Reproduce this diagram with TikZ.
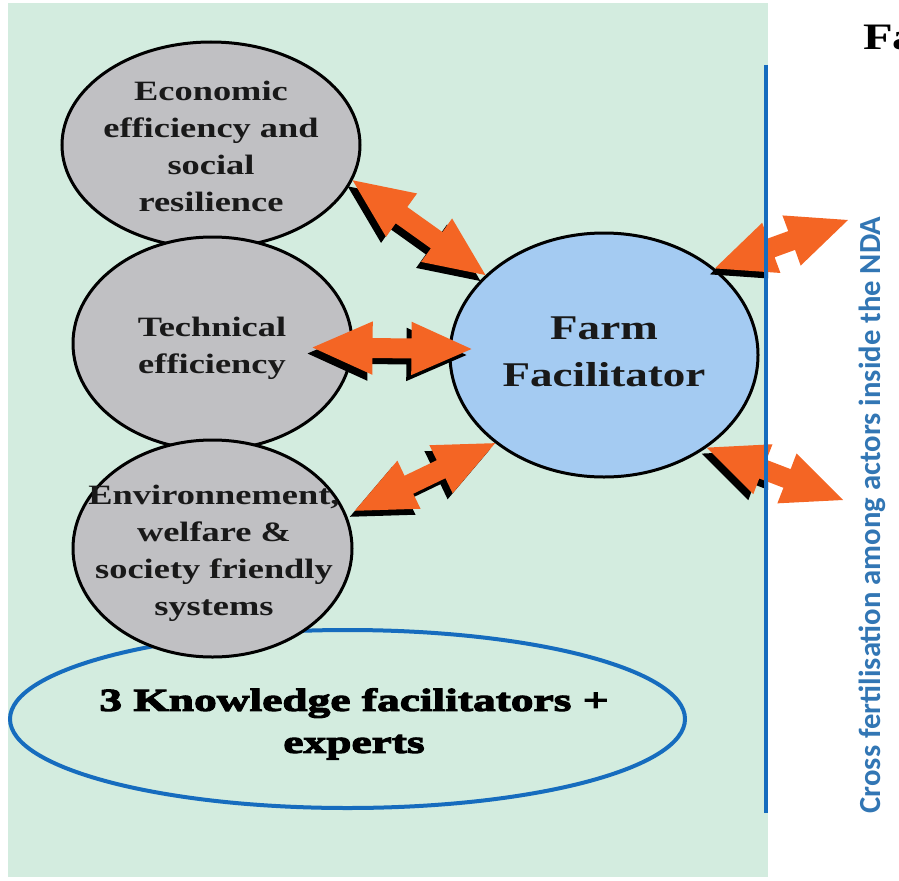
\documentclass[tikz,border=0pt]{standalone}
\usepackage{fontspec}
\setmainfont{Liberation Serif}
\newfontfamily\wideserif[FakeStretch=1.3]{Liberation Serif}
\newfontfamily\heavyserif[FakeStretch=1.42,FakeBold=3.5]{Liberation Serif}
\newfontfamily\sidesans{Carlito}
\usetikzlibrary{calc,shapes.geometric}
\definecolor{bggreen}{RGB}{211,236,223}
\definecolor{ellgray}{RGB}{192,192,195}
\definecolor{farmblue}{RGB}{164,203,242}
\definecolor{arrorange}{RGB}{244,101,36}
\definecolor{lineblue}{RGB}{22,108,190}
\definecolor{sideblue}{RGB}{50,118,180}
\definecolor{txtdark}{RGB}{25,25,25}
% double arrow polygon between two named points
\newcommand\dblarrow[3]{%
  \fill[#3] (#1) -- ($(#1)!49.3pt!23.96:(#2)$) -- ($(#1)!45.6pt!9.46:(#2)$)
    -- ($(#2)!45.6pt!-9.46:(#1)$) -- ($(#2)!49.3pt!-23.96:(#1)$) -- (#2)
    -- ($(#2)!49.3pt!23.96:(#1)$) -- ($(#2)!45.6pt!9.46:(#1)$)
    -- ($(#1)!45.6pt!-9.46:(#2)$) -- ($(#1)!49.3pt!-23.96:(#2)$) -- cycle;}
\newcommand\shadowarrow[2]{%
  \coordinate (sA) at ($(#1)+(-5,6)$);
  \coordinate (sB) at ($(#2)+(-5,6)$);
  \dblarrow{sA}{sB}{black}}
\tikzset{
  grayell/.style={ellipse, draw=black, line width=2.25pt, fill=ellgray, inner sep=0pt},
  graytext/.style={align=center, text=txtdark, inner sep=0pt,
    font=\wideserif\bfseries\fontsize{21}{27.75}\selectfont},
  farmell/.style={ellipse, draw=black, line width=2.25pt, fill=farmblue, inner sep=0pt},
  farmtext/.style={align=center, text=txtdark, inner sep=0pt,
    font=\wideserif\bfseries\fontsize{26}{35}\selectfont},
  knowell/.style={ellipse, draw=lineblue, line width=3pt, inner sep=0pt},
  knowtext/.style={align=center, text=black, inner sep=0pt,
    font=\heavyserif\bfseries\fontsize{24}{31.5}\selectfont},
  sidetext/.style={text=sideblue, inner sep=0pt, rotate=90, anchor=base,
    font=\sidesans\bfseries\fontsize{23}{23}\selectfont},
}
\begin{document}
\begin{tikzpicture}[x=0.75pt,y=-0.75pt]
\useasboundingbox (0,0) rectangle (899,881);
\fill[bggreen] (8,3) rectangle (768,877);

\node[knowell, minimum width=506.25pt, minimum height=133.5pt] (know) at (347.5,719) {};
\node[grayell, minimum width=223.5pt, minimum height=154.5pt] (econ) at (211,145) {};
\node[grayell, minimum width=209.25pt, minimum height=159.75pt] (tech) at (212.5,343.5) {};
\node[grayell, minimum width=209.25pt, minimum height=162.75pt] (env) at (212.5,548.5) {};
\node[farmell, minimum width=231pt, minimum height=183pt] (farm) at (604,355) {};

% arrow end points
\coordinate (a1s) at (econ.-14);
\coordinate (a1e) at (farm.146);
\coordinate (a2s) at ($(tech.center)+(100,4)$);
\coordinate (a2e) at ($(farm.west)+(23,-6)$);
\coordinate (a3s) at ($(env.15)+(9,-2)$);
\coordinate (a3e) at (farm.-141);
\coordinate (a4s) at (farm.38.6);
\coordinate (a4e) at (848,220);
\coordinate (a5s) at (farm.-42.6);
\coordinate (a5e) at (843,500);

% shadows
\begin{scope}
  \clip (8,3) rectangle (768,877);
  \shadowarrow{a1s}{a1e}
  \shadowarrow{a2s}{a2e}
  \shadowarrow{a3s}{a3e}
  \shadowarrow{a4s}{a4e}
  \shadowarrow{a5s}{a5e}
\end{scope}
\dblarrow{a1s}{a1e}{arrorange}
\dblarrow{a2s}{a2e}{arrorange}
\dblarrow{a3s}{a3e}{arrorange}
\dblarrow{a4s}{a4e}{arrorange}
\dblarrow{a5s}{a5e}{arrorange}

% vertical line
\coordinate (vtop) at (766,65);
\coordinate (vbot) at (766,813);
\draw[lineblue, line width=3pt] (vtop) -- (vbot);

% texts
\node[graytext] (econt) at (211,146) {Economic\\efficiency and\\social\\resilience};
\node[graytext] (techt) at (212,348) {Technical\\efficiency};
\node[graytext] (envt) at (214,553) {Environnement,\\welfare \&\\society friendly\\systems};
\node[farmtext] (farmt) at (604,352) {Farm\\Facilitator};
\node[knowtext] (knowt) at (354,724) {3 Knowledge facilitators +\\experts};
\node[sidetext] (side) at (880,515) {Cross fertilisation among actors inside the NDA};
\node[anchor=base west, inner sep=0pt, text=black,
  font=\wideserif\bfseries\fontsize{28}{28}\selectfont] (fa) at (863,50) {Fa};
\end{tikzpicture}
\end{document}
